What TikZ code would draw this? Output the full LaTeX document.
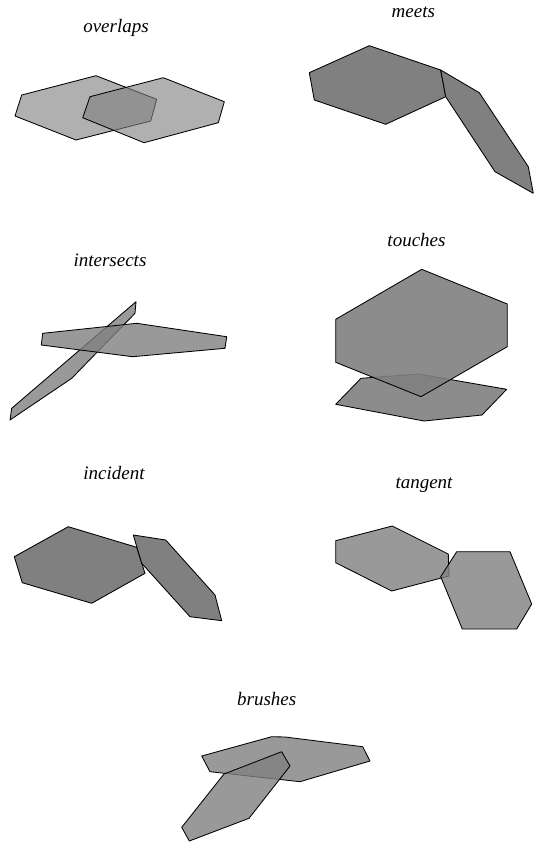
\documentclass[tikz,border=0pt]{standalone}
\usepackage{fontspec}
\setmainfont{Liberation Serif}
\usepackage{tikz}
\definecolor{RegionGray}{RGB}{128,128,128}
\tikzset{
  region/.style={draw=black,line width=.85pt,line join=round,fill=RegionGray},
  relname/.style={font=\fontsize{19}{22}\selectfont\itshape,anchor=base,inner sep=0pt}
}

\begin{document}
\begin{tikzpicture}[x=1pt,y=-1pt]
\useasboundingbox (0,0) rectangle (543,847);
% overlaps
\draw[region,fill opacity=.62] (21.7,95) -- (96,75.7) -- (156.7,99.3) -- (150.7,121) -- (76,140) -- (15,116) -- cycle;
\draw[region,fill opacity=.62] (90,96.7) -- (163.3,77.7) -- (224.3,101.7) -- (218.3,122.7) -- (144,142.7) -- (82.7,117.7) -- cycle;
\node[relname] (overlaps) at (116,32) {overlaps};
% meets
\draw[region] (309.3,72.7) -- (369.3,45.7) -- (440.7,70) -- (445.7,96.7) -- (385.7,124.3) -- (314.3,100) -- cycle;
\draw[region] (440.7,70) -- (479.3,92.7) -- (528.3,166.7) -- (533.3,193.3) -- (495,171.7) -- (445.7,96.7) -- cycle;
\node[relname] (meets) at (413.3,17.5) {meets};
% intersects
\draw[region,fill opacity=.8] (136,301.7) -- (135,313.3) -- (71.7,378.3) -- (10,420) -- (11.7,408.3) -- cycle;
\draw[region,fill opacity=.8] (42.7,333.3) -- (136.7,323.3) -- (226.7,336.7) -- (225,348.3) -- (132.7,356.7) -- (41.3,345) -- cycle;
\node[relname] (intersects) at (110,266.7) {intersects};
% touches
\draw[region,fill opacity=.9] (361,378.3) -- (418.3,374) -- (506.7,389.3) -- (482,415) -- (424,421) -- (335.7,404.3) -- cycle;
\draw[region,fill opacity=.9] (421.7,269.3) -- (507.3,304) -- (507.3,346.7) -- (421,396.7) -- (335.7,362.3) -- (335.7,319.3) -- cycle;
\node[relname] (touches) at (416.5,246.7) {touches};
% incident
\draw[region] (14.3,556.7) -- (68.3,526.7) -- (136.7,547.3) -- (145,573.3) -- (91.7,603.3) -- (22.3,582.7) -- cycle;
\draw[region] (133.3,535) -- (165.7,540) -- (215,595) -- (221.7,620.7) -- (190,616.7) -- (141.7,563.3) -- cycle;
\node[relname] (incident) at (114,479.3) {incident};
% tangent
\draw[region,fill opacity=.8] (335.7,540.7) -- (392.3,526) -- (448.3,554) -- (449,576) -- (391.7,591) -- (335.7,562.7) -- cycle;
\draw[region,fill opacity=.8] (456.7,551.7) -- (510,551.7) -- (531.7,604) -- (516.7,629) -- (462.3,629) -- (440.7,576.7) -- cycle;
\node[relname] (tangent) at (424,488) {tangent};
% brushes
\draw[region,fill opacity=.8] (201.7,756) -- (271.7,736.7) -- (285,737) -- (362.7,746.7) -- (370,761) -- (300,781.7) -- (210,771.7) -- cycle;
\draw[region,fill opacity=.8] (281.7,751.7) -- (290,766) -- (249,818.3) -- (189.3,841) -- (181.7,827.3) -- (224,774) -- cycle;
\node[relname] (brushes) at (266.7,705) {brushes};
\end{tikzpicture}
\end{document}
